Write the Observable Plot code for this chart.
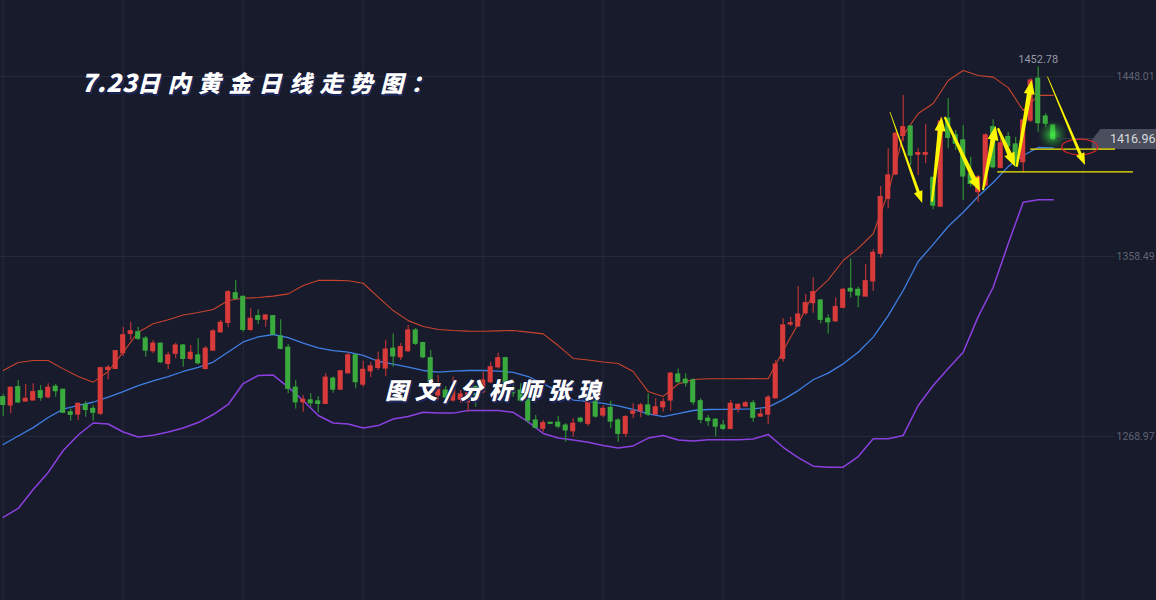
<!DOCTYPE html>
<html><head><meta charset="utf-8">
<script src="https://cdn.jsdelivr.net/npm/d3@7"></script>
<script src="https://cdn.jsdelivr.net/npm/@observablehq/plot@0.6"></script>
<style>
html,body{margin:0;padding:0;background:#181b2b;overflow:hidden;}
#chart svg{display:block;}
</style></head><body><div id="chart"></div>
<script>
// ---------- data (daily gold candles, index 0..140) ----------
const open = [1288.5,1284.4,1293.5,1286.4,1286.9,1291.5,1288.5,1293.7,1292.2,1281.0,
1279.9,1284.7,1282.7,1280.3,1302.1,1302.6,1310.4,1320.0,1320.8,1317.6,
1311.4,1315.1,1305.1,1310.1,1314.2,1307.6,1309.3,1302.6,1311.7,1320.8,
1325.5,1340.2,1338.4,1322.0,1328.8,1327.1,1328.8,1318.7,1313.1,1293.2,
1286.0,1286.9,1286.4,1285.2,1297.7,1292.3,1300.4,1309.3,1294.8,1301.4,
1303.1,1302.8,1312.6,1308.4,1311.4,1321.7,1315.4,1307.9,1289.4,1291.8,
1286.9,1287.3,1286.0,1293.5,1291.0,1296.0,1303.4,1307.9,1292.7,1291.8,
1287.7,1276.9,1272.8,1275.8,1275.8,1274.4,1271.6,1277.8,1275.3,1286.4,
1279.4,1283.2,1276.9,1270.3,1280.3,1281.5,1284.4,1279.9,1283.5,1286.9,
1299.8,1297.2,1296.8,1286.5,1277.8,1277.3,1274.4,1272.8,1282.7,1283.9,
1285.5,1278.9,1279.9,1288.0,1307.6,1324.7,1323.7,1330.3,1335.3,1336.6,
1327.5,1326.3,1333.0,1342.4,1341.9,1338.6,1346.1,1359.8,1387.2,1399.3,
1418.4,1423.1,1409.1,1409.1,1397.6,1383.3,1427.0,1418.7,1416.2,1399.3,
1390.5,1393.8,1422.8,1402.6,1417.9,1414.2,1405.4,1426.1,1446.9,1428.1,
1423.6];
const high = [1289.9,1293.5,1296.8,1294.8,1295.2,1294.3,1295.2,1294.8,1292.3,1282.7,
1285.5,1286.4,1284.4,1303.4,1304.3,1311.7,1323.3,1325.8,1323.3,1318.7,
1316.7,1315.4,1310.9,1315.4,1314.7,1314.2,1317.6,1313.7,1322.0,1326.6,
1341.6,1346.6,1338.8,1332.5,1332.0,1329.6,1329.1,1327.0,1314.7,1296.8,
1289.4,1290.2,1288.9,1300.2,1298.5,1301.8,1310.4,1310.1,1306.4,1305.9,
1310.9,1316.7,1320.0,1315.2,1324.2,1322.7,1315.9,1311.7,1299.3,1293.8,
1298.5,1291.8,1292.8,1294.3,1300.9,1305.9,1310.4,1308.4,1296.8,1295.2,
1288.5,1279.4,1276.9,1275.9,1278.9,1275.3,1277.8,1278.6,1286.9,1286.9,
1284.4,1286.5,1277.8,1279.4,1285.2,1285.5,1290.2,1287.7,1287.7,1300.9,
1302.6,1300.2,1297.7,1287.7,1279.4,1277.8,1276.9,1286.9,1285.2,1286.4,
1286.9,1282.7,1289.4,1306.8,1327.5,1328.3,1343.6,1339.6,1347.9,1336.9,
1329.5,1337.9,1342.6,1357.3,1343.2,1354.5,1361.8,1393.3,1412.1,1420.3,
1438.6,1423.6,1412.1,1424.1,1397.9,1427.6,1436.9,1421.1,1423.6,1407.9,
1398.8,1419.5,1426.5,1417.0,1420.3,1417.8,1427.0,1447.0,1452.78,1429.5,
1424.1];
const low = [1279.1,1280.3,1285.5,1286.0,1286.7,1286.5,1287.7,1288.5,1280.6,1276.6,
1276.9,1278.6,1276.6,1279.4,1297.2,1302.3,1308.8,1316.7,1316.7,1308.4,
1310.1,1305.4,1302.3,1307.6,1303.4,1306.8,1304.6,1302.1,1311.4,1320.5,
1323.0,1337.0,1320.8,1321.3,1324.7,1323.3,1319.2,1312.1,1290.2,1282.7,
1281.0,1283.5,1280.6,1284.8,1290.5,1291.8,1300.2,1292.7,1293.5,1298.2,
1301.8,1298.8,1303.4,1306.8,1310.9,1314.2,1307.6,1291.8,1286.9,1286.4,
1286.0,1285.4,1281.0,1283.5,1290.2,1295.2,1302.6,1291.8,1288.5,1286.0,
1275.3,1272.8,1271.1,1275.1,1272.8,1266.1,1268.6,1275.6,1273.9,1278.1,
1278.3,1272.8,1266.1,1268.6,1277.8,1278.3,1278.9,1279.4,1281.0,1281.5,
1295.2,1293.5,1284.4,1275.3,1273.9,1269.0,1272.0,1272.3,1280.6,1283.4,
1276.1,1278.5,1274.9,1287.7,1305.9,1323.7,1323.3,1329.1,1330.3,1325.0,
1320.0,1325.8,1332.5,1337.9,1333.0,1338.3,1341.2,1357.8,1382.2,1398.8,
1415.7,1403.7,1398.8,1404.6,1381.7,1383.0,1412.1,1411.2,1386.3,1392.9,
1385.5,1392.9,1402.1,1402.1,1410.2,1402.9,1400.4,1425.1,1420.3,1422.5,
1416.2];
const close = [1284.7,1293.2,1285.9,1287.7,1291.0,1288.2,1293.2,1291.5,1280.8,1279.8,
1285.2,1282.2,1280.8,1302.9,1303.1,1311.4,1319.3,1321.3,1317.6,1311.7,
1315.1,1305.9,1309.3,1314.2,1307.6,1310.6,1305.4,1312.6,1321.2,1325.5,
1340.7,1337.5,1322.0,1327.5,1327.0,1329.1,1319.7,1312.6,1292.7,1286.0,
1287.2,1285.5,1285.2,1298.2,1292.3,1301.4,1309.3,1296.0,1302.1,1303.8,
1306.8,1312.2,1308.8,1313.4,1321.7,1315.1,1308.4,1293.5,1292.3,1288.4,
1292.2,1289.9,1290.4,1289.4,1296.8,1303.4,1307.9,1292.7,1290.5,1286.9,
1276.9,1273.3,1275.6,1275.3,1273.9,1272.0,1275.3,1276.4,1286.0,1278.9,
1282.7,1276.4,1270.3,1278.6,1281.4,1284.4,1279.9,1283.5,1286.0,1300.2,
1296.0,1295.5,1286.0,1277.3,1276.6,1273.9,1272.8,1285.2,1284.7,1285.5,
1278.3,1279.9,1288.2,1304.8,1324.2,1325.3,1329.6,1335.3,1340.7,1327.0,
1325.8,1333.3,1341.9,1341.1,1339.1,1346.2,1360.3,1388.0,1398.8,1419.5,
1422.8,1408.7,1409.9,1409.9,1383.8,1425.6,1417.5,1414.6,1398.3,1394.6,
1397.9,1418.7,1402.9,1414.8,1413.2,1405.4,1426.1,1446.0,1424.8,1424.5,
1416.96];

// Bollinger bands, every 2nd candle (index 0,2,...,140)
const bandIndex = d3.range(0, 141, 2);
const upperBand = [1301.8,1305.8,1306.8,1306.8,1302.6,1298.8,1296.0,1301.3,1310.9,1320.8,
1325.0,1327.0,1329.4,1330.6,1332.1,1336.6,1337.7,1338.1,1338.8,1339.9,
1344.1,1346.6,1346.6,1346.4,1345.2,1338.3,1331.6,1326.6,1323.7,1322.2,
1321.7,1321.4,1321.3,1321.5,1321.7,1320.9,1320.0,1314.2,1307.8,1307.0,
1306.0,1305.3,1301.3,1291.3,1288.9,1295.1,1297.3,1297.7,1297.7,1297.7,
1297.8,1297.7,1311.7,1325.0,1339.9,1346.9,1356.5,1362.5,1369.8,1390.3,
1418.7,1429.6,1434.6,1446.0,1451.0,1448.5,1447.7,1442.5,1431.1,1438.6,
1438.6];
const middleBand = [1265.0,1269.2,1273.4,1278.4,1282.6,1284.4,1286.0,1288.6,1291.3,1294.3,
1296.6,1298.8,1301.3,1303.3,1306.0,1311.0,1316.0,1318.5,1319.7,1318.1,
1315.4,1313.1,1311.7,1310.9,1309.3,1306.4,1305.0,1303.5,1301.8,1301.0,
1301.5,1301.8,1301.8,1301.5,1300.9,1298.8,1295.3,1291.3,1287.1,1286.4,
1285.4,1284.2,1282.4,1280.2,1278.9,1280.3,1281.9,1282.4,1282.5,1282.6,
1282.7,1283.6,1287.3,1291.8,1297.2,1300.5,1305.1,1310.9,1318.4,1329.1,
1341.6,1356.0,1364.5,1373.4,1380.5,1388.3,1395.3,1403.2,1408.7,1412.7,
1412.5];
const lowerBand = [1228.7,1233.2,1242.6,1251.1,1262.0,1269.7,1275.7,1275.2,1271.2,1268.7,
1269.6,1271.2,1273.2,1275.9,1279.9,1284.9,1295.3,1299.3,1299.5,1293.5,
1286.9,1279.4,1275.7,1275.2,1273.2,1274.4,1277.7,1278.9,1281.0,1280.6,
1280.6,1281.9,1281.9,1281.9,1281.0,1276.2,1270.5,1268.2,1267.2,1266.1,
1264.5,1263.3,1264.3,1268.2,1269.5,1267.2,1266.7,1267.3,1267.3,1267.3,
1267.7,1270.0,1263.6,1258.5,1254.2,1253.7,1253.7,1259.0,1267.8,1267.8,
1269.5,1284.4,1294.3,1302.8,1310.9,1328.6,1343.2,1364.8,1385.5,1386.7,
1386.7];

const yTicks = [1268.97, 1358.49, 1448.01];
const gridIndex = [0, 16, 32, 48, 64, 80, 96, 112, 128, 144];
const lastPrice = 1416.96;
const maxPrice = 1452.78;
const maxIndex = 138;

// hand-drawn annotations (candle index, price)
const arrowX1 = [118.3, 123.9, 125.6, 130.7, 132.7, 135.2, 139.3];
const arrowY1 = [1430.1, 1385.5, 1427.6, 1391.3, 1422.0, 1402.9, 1447.7];
const arrowX2 = [122.6, 125.2, 130.3, 132.4, 135.0, 137.2, 144.3];
const arrowY2 = [1384.8, 1427.6, 1390.5, 1423.1, 1402.9, 1446.0, 1403.7];
const arrowThin = [true, false, false, false, false, false, true];
const levelPrice = [1411.6, 1400.3];
const levelFrom = [137.0, 132.6];
const levelTo = [148.3, 150.7];
const ellipseAt = {i: 143.6, price: 1412.7};

const titleDate = "7.23";
const titleText = "日内黄金日线走势图：";
const markText = "图文/分析师张琅";

// ---------- chart ----------
const BG = "#181b2b", GRID = "#252a3b", RED = "#d93b3b", GREEN = "#3aaa3f";
const candles = open.map((o, i) => ({i, o, h: high[i], l: low[i], c: close[i], up: close[i] >= o}));
const bands = bandIndex.map((i, k) => ({i, u: upperBand[k], m: middleBand[k], l: lowerBand[k]}));

const chart = Plot.plot({
  width: 1156, height: 600, margin: 0,
  style: {background: BG, overflow: "visible"},
  x: {domain: [0, 140], range: [2.7, 1052.7], axis: null},
  y: {domain: [yTicks[0], yTicks[2]], range: [436, 76], axis: null},
  marks: [
    Plot.ruleX(gridIndex, {x: d => d, stroke: GRID, strokeWidth: 1}),
    Plot.ruleY(yTicks, {y: d => d, x1: -3, x2: 148.3, stroke: GRID, strokeWidth: 1}),
    Plot.line(bands, {x: "i", y: "u", stroke: "#c8442e", strokeWidth: 1.1}),
    Plot.line(bands, {x: "i", y: "m", stroke: "#3f7fe4", strokeWidth: 1.3}),
    Plot.line(bands, {x: "i", y: "l", stroke: "#8c40e0", strokeWidth: 1.5}),
    Plot.ruleX(candles, {x: "i", y1: "l", y2: "h", stroke: d => d.up ? "#b93434" : "#2f8d35", strokeWidth: 1.2}),
    Plot.rect(candles, {x1: d => d.i - 0.34, x2: d => d.i + 0.34, y1: "o", y2: "c",
      fill: d => d.up ? RED : GREEN, insetTop: -0.6, insetBottom: -0.6}),
    Plot.text(yTicks, {y: d => d, text: d => d.toFixed(2), frameAnchor: "right", textAnchor: "start",
      dx: -40, fill: "#5f6373", fontSize: 10.5, fontFamily: "Roboto, sans-serif"}),
    Plot.text([maxPrice], {x: maxIndex, y: d => d, text: d => d.toFixed(2), dy: -7, textAnchor: "middle",
      fill: "#9599a6", fontSize: 11, fontFamily: "Roboto, sans-serif"})
  ]
});
document.getElementById("chart").appendChild(chart);

// ---------- overlays ----------
const svg = d3.select(chart);
const sx = chart.scale("x"), sy = chart.scale("y");
const X = v => sx.apply(v), Y = v => sy.apply(v);

const defs = svg.append("defs");
const grad = defs.append("radialGradient").attr("id", "glow");
grad.append("stop").attr("offset", "0%").attr("stop-color", "#4dff4d").attr("stop-opacity", 0.75);
grad.append("stop").attr("offset", "55%").attr("stop-color", "#2fcf3a").attr("stop-opacity", 0.3);
grad.append("stop").attr("offset", "100%").attr("stop-color", "#1f8f2a").attr("stop-opacity", 0);
svg.append("circle").attr("cx", X(140)).attr("cy", Y((open[140] + close[140]) / 2) + 3)
  .attr("r", 15).attr("fill", "url(#glow)");

// last price line and tag
const ly = Y(lastPrice);
svg.append("line").attr("x1", X(140) + 4).attr("x2", 1092).attr("y1", ly).attr("y2", ly)
  .attr("stroke", "#3a3e4d").attr("stroke-width", 1);
svg.append("path").attr("d", `M1091.7,${ly + 1.5} L1100.5,${ly - 9.5} L1156,${ly - 9.5} L1156,${ly + 10.5} L1091.7,${ly + 10.5} Z`)
  .attr("fill", "#4a4d5b");
svg.append("text").attr("x", 1110).attr("y", ly).attr("dy", "0.36em").attr("fill", "#d8d9df")
  .attr("text-anchor", "start")
  .attr("font-family", "Roboto, sans-serif").attr("font-size", 12.5).text(lastPrice.toFixed(2));

// yellow level lines
levelPrice.forEach((p, k) => {
  svg.append("line").attr("x1", X(levelFrom[k])).attr("x2", X(levelTo[k])).attr("y1", Y(p)).attr("y2", Y(p))
    .attr("stroke", "#f5f000").attr("stroke-width", 1.3);
});

// red ellipse
svg.append("ellipse").attr("cx", X(ellipseAt.i)).attr("cy", Y(ellipseAt.price)).attr("rx", 18).attr("ry", 7.8)
  .attr("fill", "none").attr("stroke", "#d42828").attr("stroke-width", 1.3);

// tapered arrows
function arrowPath(x0, y0, x1, y1, w0, w1, hw, hl) {
  const dx = x1 - x0, dy = y1 - y0, L = Math.hypot(dx, dy);
  const ux = dx / L, uy = dy / L, nx = -uy, ny = ux;
  const bx = x1 - ux * hl, by = y1 - uy * hl;
  const p = [
    [x0 + nx * w0 / 2, y0 + ny * w0 / 2], [bx + nx * w1 / 2, by + ny * w1 / 2],
    [bx + nx * hw / 2, by + ny * hw / 2], [x1, y1],
    [bx - nx * hw / 2, by - ny * hw / 2], [bx - nx * w1 / 2, by - ny * w1 / 2],
    [x0 - nx * w0 / 2, y0 - ny * w0 / 2]];
  return "M" + p.map(q => q[0].toFixed(1) + "," + q[1].toFixed(1)).join("L") + "Z";
}
arrowX1.forEach((a, k) => {
  const thin = arrowThin[k];
  svg.append("path")
    .attr("d", arrowPath(X(a), Y(arrowY1[k]), X(arrowX2[k]), Y(arrowY2[k]),
      thin ? 0.8 : 2.2, thin ? 3.2 : 4.8, thin ? 9 : 11, thin ? 12 : 14))
    .attr("fill", "#fbf500");
});

// title and watermark
function brushText(x, y, s, size, spacing) {
  const g = svg.append("g").attr("text-anchor", "start");
  g.append("text").attr("x", x + 1.5).attr("y", y + 1.5).attr("fill", "#1d2a66")
    .attr("font-family", "'Noto Sans CJK SC', sans-serif").attr("font-weight", 900)
    .attr("font-style", "italic").attr("font-size", size).attr("letter-spacing", spacing).text(s);
  g.append("text").attr("x", x).attr("y", y).attr("fill", "#ffffff")
    .attr("stroke", "#0e1230").attr("stroke-width", 1).attr("paint-order", "stroke")
    .attr("font-family", "'Noto Sans CJK SC', sans-serif").attr("font-weight", 900)
    .attr("font-style", "italic").attr("font-size", size).attr("letter-spacing", spacing).text(s);
}
brushText(81, 92, titleDate, 25, 0.5);
brushText(137, 92, titleText, 23, 7.4);
brushText(385, 399, markText, 23, 6.5);
</script></body></html>
